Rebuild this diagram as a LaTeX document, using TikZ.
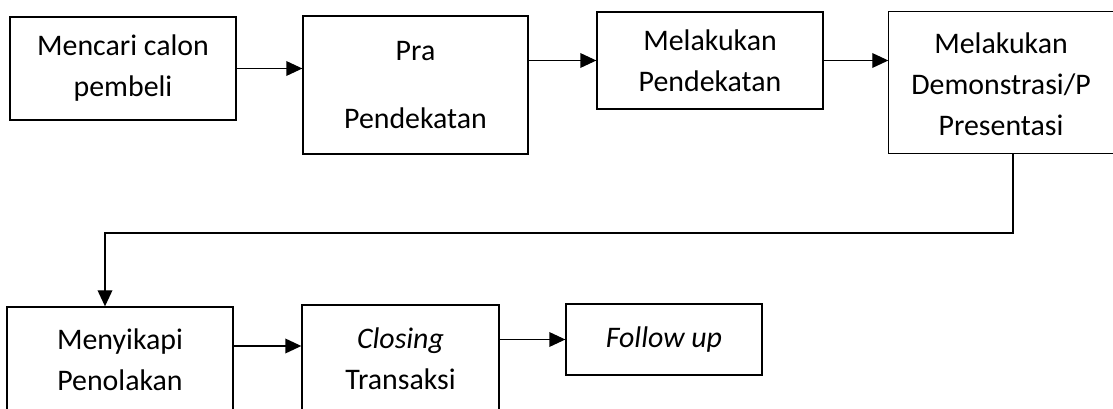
\documentclass[tikz,border=0pt]{standalone}
\usepackage{fontspec}
\setmainfont{Carlito}
\usepackage{tikz}
\usetikzlibrary{
  positioning,
  arrows.meta,
  calc
}

\begin{document}
\begin{tikzpicture}[
    x=0.75pt, y=-0.75pt,
    >={Triangle[length=12pt, width=11pt]},
    kotak/.style={draw, line width=1pt, align=center, inner sep=0pt,
        font=\fontsize{22.4}{30.75}\selectfont},
    teks/.style={align=center, inner sep=0pt, font=\fontsize{22.4}{30.75}\selectfont},
    panah/.style={->, line width=1pt}
]
    \useasboundingbox (0,0) rectangle (1113,409);
    \clip (0,0) rectangle (1113,409);

    % baris atas
    \node[kotak, minimum width=169.5pt, minimum height=77.25pt] (cari) at (123,68.5) {Mencari calon\\pembeli};
    \node[kotak, minimum width=168.75pt, minimum height=103.5pt] (pra) at (415.5,85) {Pra\\[20pt]Pendekatan};
    \node[kotak, minimum width=169.5pt, minimum height=72.75pt] (dekat) at (710,60.5) {Melakukan\\Pendekatan};
    % kotak terpotong di tepi kanan
    \node[kotak, draw=none, minimum width=230pt, minimum height=105.75pt] (demo) at (1042.3,82.5) {};
    \draw[line width=1pt] (demo.north east) -- (demo.north west) -- (demo.south west) -- (demo.south east);
    \node[teks] (demoteks) at (1001,84) {Melakukan\\Demonstrasi/P\\Presentasi};

    % baris bawah
    \node[kotak, minimum width=169.5pt, minimum height=79.5pt] (tolak) at (120,360) {Menyikapi\\Penolakan};
    \node[kotak, minimum width=147.75pt, minimum height=81pt] (closing) at (400.5,359) {\textit{Closing}\\Transaksi};
    \node[kotak, minimum width=147pt, minimum height=53.25pt] (follow) at (664,339.5) {\textit{Follow up}};

    % panah
    \draw[panah] (cari.east) -- (cari.east -| pra.west);
    \draw[panah] (pra.east |- dekat.west) -- (dekat.west);
    \draw[panah] (dekat.east) -- (dekat.east -| demo.west);

    \coordinate (belok) at (1013,233);
    \coordinate (jatuh) at (105,233);
    \draw[panah] (belok |- demo.south) -- (belok) -- (jatuh) -- (jatuh |- tolak.north);

    \draw[panah] ($(tolak.east)+(0,-14)$) -- ($(tolak.east -| closing.west)+(0,-14)$);
    \draw[panah] (closing.east |- follow.west) -- (follow.west);
\end{tikzpicture}
\end{document}
